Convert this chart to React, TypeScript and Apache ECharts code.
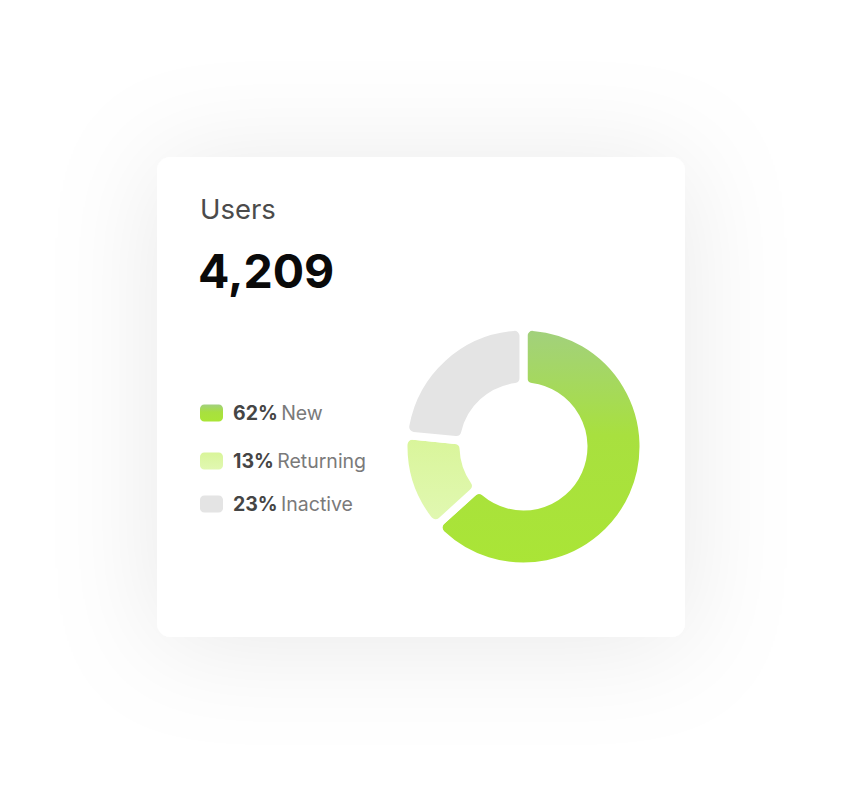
import React, { useEffect, useRef } from "react";
import * as echarts from "echarts";

const categories = ["New", "Returning", "Inactive"];
const values = [62, 13, 23];
const percentLabels = ["62%", "13%", "23%"];
const titleText = "Users";
const totalText = "4,209";

const FONT = "Inter, 'Noto Sans', sans-serif";

export default function App() {
  const ref = useRef<HTMLDivElement>(null);
  useEffect(() => {
    if (!ref.current) return;
    const chart = echarts.init(ref.current, null, { renderer: "svg" });
    const colors = [
      new echarts.graphic.LinearGradient(0, 0, 0, 1, [
        { offset: 0, color: "#a2d07f" },
        { offset: 0.45, color: "#a8e03f" },
        { offset: 1, color: "#aae536" },
      ]),
      new echarts.graphic.LinearGradient(0, 0, 0, 1, [
        { offset: 0, color: "#d9f59a" },
        { offset: 1, color: "#e1f8b2" },
      ]),
      "#e4e4e4",
    ];
    const legendTops = [403, 451, 494];
    chart.setOption({
      animation: false,
      backgroundColor: "#ffffff",
      graphic: [
        {
          type: "rect",
          z: -10,
          silent: true,
          shape: { x: 157, y: 157, width: 528, height: 480, r: 14 },
          style: {
            fill: "#ffffff",
            shadowBlur: 110,
            shadowColor: "rgba(0,0,0,0.09)",
            shadowOffsetX: 0,
            shadowOffsetY: 6,
          },
        },
      ],
      title: [
        {
          text: titleText,
          left: 200,
          top: 195,
          padding: 0,
          textStyle: { fontFamily: FONT, fontSize: 27.5, fontWeight: 400, color: "#4b4b4b" },
        },
        {
          text: totalText,
          left: 198,
          top: 247,
          padding: 0,
          textStyle: { fontFamily: FONT, fontSize: 46.5, fontWeight: 700, color: "#0a0a0a" },
        },
      ],
      legend: categories.map((c, i) => ({
        data: [c],
        left: 200,
        top: legendTops[i],
        padding: 0,
        icon: "roundRect",
        itemWidth: 23,
        itemHeight: 17,
        itemGap: 10,
        selectedMode: false,
        itemStyle: { borderWidth: 0 },
        formatter: (name: string) => {
          const idx = categories.indexOf(name);
          return `{b|${percentLabels[idx]}} {n|${name}}`;
        },
        textStyle: {
          fontFamily: FONT,
          rich: {
            b: {
              fontFamily: FONT,
              fontSize: 19.5,
              fontWeight: 700,
              color: "#454545",
              padding: [0, 0, 0, 5],
            },
            n: { fontFamily: FONT, fontSize: 19.5, fontWeight: 400, color: "#7a7a7a" },
          },
        },
      })),
      series: [
        {
          type: "pie",
          center: [523.5, 446.5],
          radius: [60, 120],
          startAngle: 90,
          clockwise: true,
          silent: true,
          label: { show: false },
          labelLine: { show: false },
          itemStyle: { borderColor: "#ffffff", borderWidth: 8, borderRadius: 9 },
          data: categories.map((c, i) => ({
            name: c,
            value: values[i],
            itemStyle: { color: colors[i] },
          })),
        },
      ],
    });
    return () => chart.dispose();
  }, []);
  return (
    <div
      ref={ref}
      style={{ position: "fixed", left: 0, top: 0, width: 851, height: 802 }}
    />
  );
}
